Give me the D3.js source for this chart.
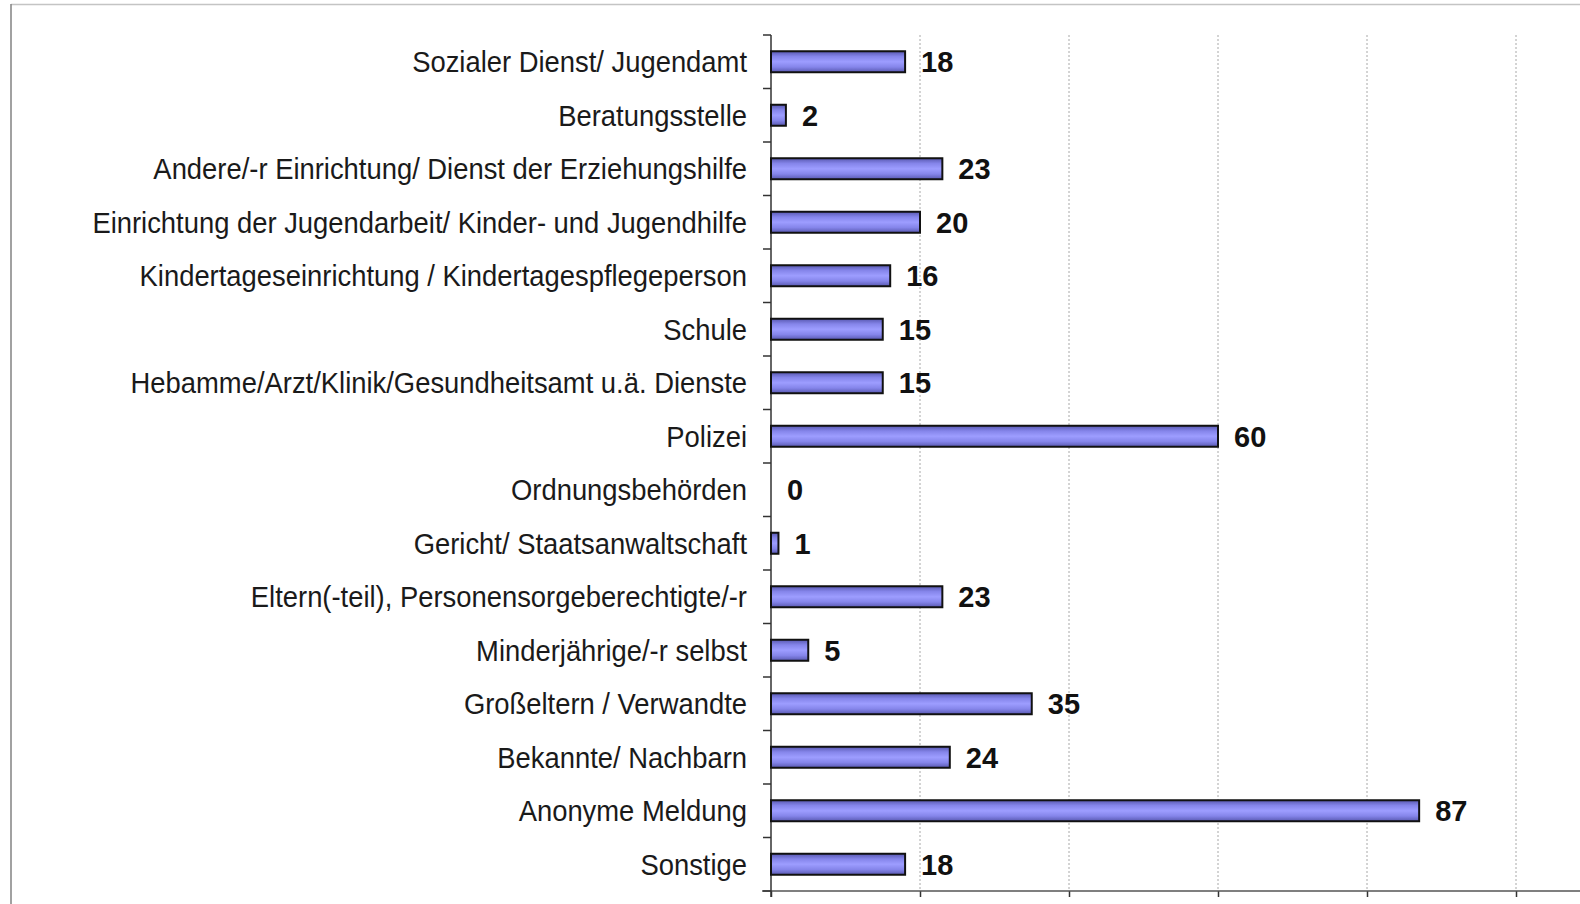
<!DOCTYPE html>
<html>
<head>
<meta charset="utf-8">
<script src="https://cdn.jsdelivr.net/npm/d3@7"></script>
<style>
html,body{margin:0;padding:0;background:#fff;}
svg{display:block;}
</style>
</head>
<body>
<script>
const categories = [
  "Sozialer Dienst/ Jugendamt",
  "Beratungsstelle",
  "Andere/-r Einrichtung/ Dienst der Erziehungshilfe",
  "Einrichtung der Jugendarbeit/ Kinder- und Jugendhilfe",
  "Kindertageseinrichtung / Kindertagespflegeperson",
  "Schule",
  "Hebamme/Arzt/Klinik/Gesundheitsamt u.ä. Dienste",
  "Polizei",
  "Ordnungsbehörden",
  "Gericht/ Staatsanwaltschaft",
  "Eltern(-teil), Personensorgeberechtigte/-r",
  "Minderjährige/-r selbst",
  "Großeltern / Verwandte",
  "Bekannte/ Nachbarn",
  "Anonyme Meldung",
  "Sonstige"
];
const values = [18, 2, 23, 20, 16, 15, 15, 60, 0, 1, 23, 5, 35, 24, 87, 18];
const xTicks = [0, 20, 40, 60, 80, 100];

const W = 1580, H = 904;
const svg = d3.select("body").append("svg").attr("width", W).attr("height", H);

// frame
svg.append("line").attr("x1", 11).attr("x2", W).attr("y1", 4.5).attr("y2", 4.5)
  .attr("stroke", "#c4c4c4").attr("stroke-width", 1.6);
svg.append("line").attr("x1", 11).attr("x2", 11).attr("y1", 4).attr("y2", H)
  .attr("stroke", "#8a8a8a").attr("stroke-width", 1.6);

const x0 = 771, x1 = 1516, yTop = 35, yBot = 891;
const x = d3.scaleLinear().domain([0, 100]).range([x0, x1]);
const yb = d3.scaleBand().domain(categories).range([yTop, yBot]);

const defs = svg.append("defs");
const grad = defs.append("linearGradient").attr("id", "barGrad")
  .attr("x1", 0).attr("x2", 0).attr("y1", 0).attr("y2", 1);
grad.append("stop").attr("offset", "0%").attr("stop-color", "#5858b0");
grad.append("stop").attr("offset", "25%").attr("stop-color", "#8585ea");
grad.append("stop").attr("offset", "50%").attr("stop-color", "#9d9dff");
grad.append("stop").attr("offset", "75%").attr("stop-color", "#8585ea");
grad.append("stop").attr("offset", "100%").attr("stop-color", "#5858b0");

// gridlines
svg.append("g").selectAll("line").data(xTicks.filter(d => d > 0)).join("line")
  .attr("x1", d => x(d)).attr("x2", d => x(d))
  .attr("y1", yTop).attr("y2", yBot)
  .attr("stroke", "#a8a8a8").attr("stroke-width", 1).attr("stroke-dasharray", "2,2");

// bottom axis
const xAxis = d3.axisBottom(x).tickValues(xTicks).tickSize(6).tickFormat("");
const gx = svg.append("g").attr("transform", `translate(0,${yBot})`).call(xAxis);
gx.select(".domain").remove();
gx.selectAll(".tick line").attr("stroke", "#333").attr("stroke-width", 1.5);
svg.append("line").attr("x1", 762).attr("x2", W).attr("y1", yBot).attr("y2", yBot)
  .attr("stroke", "#555").attr("stroke-width", 1.5);

// left axis
svg.append("line").attr("x1", x0).attr("x2", x0).attr("y1", yTop).attr("y2", yBot + 6)
  .attr("stroke", "#333").attr("stroke-width", 1.5);
const bounds = categories.map(c => yb(c)).concat([yBot]);
svg.append("g").selectAll("line").data(bounds).join("line")
  .attr("x1", x0 - 8).attr("x2", x0).attr("y1", d => d).attr("y2", d => d)
  .attr("stroke", "#333").attr("stroke-width", 1.5);

// bars
const bh = 21;
svg.append("g").selectAll("rect").data(values.map((v, i) => ({ v, c: categories[i] })).filter(d => d.v > 0)).join("rect")
  .attr("x", x(0))
  .attr("y", d => yb(d.c) + yb.bandwidth() / 2 - bh / 2)
  .attr("width", d => x(d.v) - x(0))
  .attr("height", bh)
  .attr("fill", "url(#barGrad)")
  .attr("stroke", "#111").attr("stroke-width", 2);

// category labels (slightly stretched vertically, as in the source)
svg.append("g").selectAll("text").data(categories).join("text")
  .attr("transform", d => `translate(747,${yb(d) + yb.bandwidth() / 2}) scale(1,1.08)`)
  .attr("dy", "0.35em")
  .attr("text-anchor", "end")
  .attr("font-family", "Liberation Sans, Arial, sans-serif")
  .attr("font-size", 27.4)
  .attr("fill", "#1a1a1a")
  .text(d => d);

// value labels
svg.append("g").selectAll("text").data(values.map((v, i) => ({ v, c: categories[i] }))).join("text")
  .attr("x", d => x(d.v) + 16)
  .attr("y", d => yb(d.c) + yb.bandwidth() / 2)
  .attr("dy", "0.36em")
  .attr("font-family", "Liberation Sans, Arial, sans-serif")
  .attr("font-weight", "bold")
  .attr("font-size", 29)
  .attr("fill", "#111")
  .text(d => d.v);
</script>
</body>
</html>
